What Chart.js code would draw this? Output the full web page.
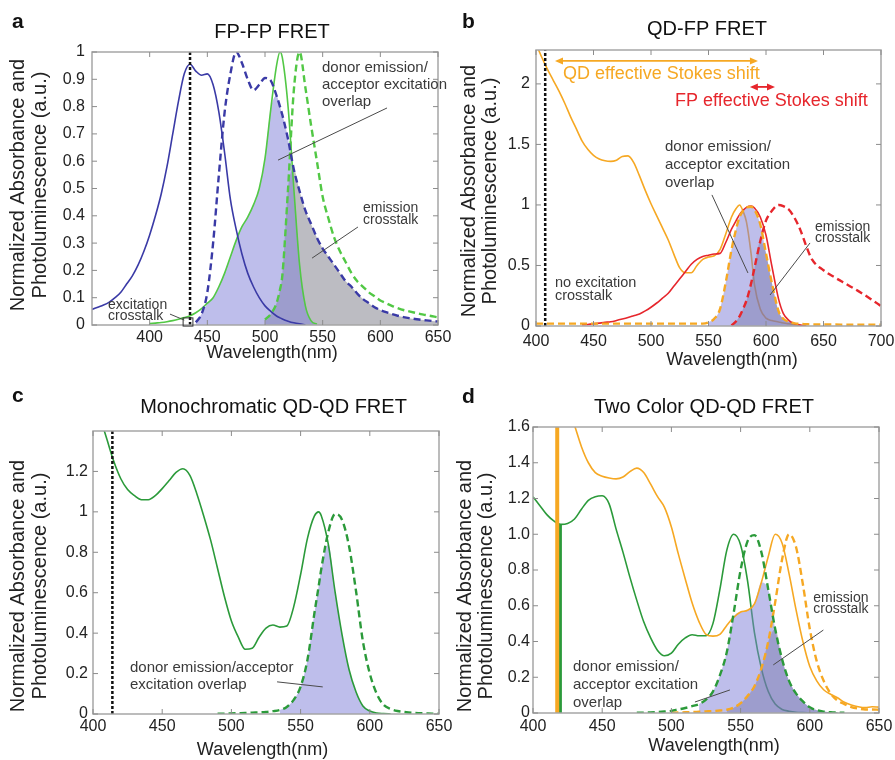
<!DOCTYPE html>
<html>
<head>
<meta charset="utf-8">
<script src="https://cdn.jsdelivr.net/npm/chart.js@4.4.1/dist/chart.umd.min.js"></script>
<style>
  body { margin: 0; background: #fff; }
  #wrap { position: relative; width: 895px; height: 760px; overflow: hidden; background: #fff; }
  canvas { position: absolute; }
</style>
</head>
<body>
<div id="wrap">
  <canvas id="panelA" width="460" height="370" style="left:0px;top:0px"></canvas>
  <canvas id="panelB" width="448" height="370" style="left:447px;top:0px"></canvas>
  <canvas id="panelC" width="460" height="390" style="left:0px;top:370px"></canvas>
  <canvas id="panelD" width="448" height="390" style="left:447px;top:370px"></canvas>
</div>
<script>
// ---------- panel a : FP-FP FRET ----------
const aWavelength = [350,355,360,365,370,375,380,385,390,395,400,405,410,415,420,425,430,435,440,445,450,455,460,465,470,475,480,485,490,495,500,505,510,513,515,520,525,530,535,540,545,550,555,560,565,570,575,580,585,590,595,600,605,610,615,620,625,630,635,640,645,650];
const aDonorAbs = [.057,.065,.073,.084,.10,.12,.15,.18,.22,.27,.33,.40,.48,.58,.70,.82,.92,.955,.93,.915,.92,.88,.78,.63,.46,.35,.26,.19,.14,.10,.07,.05,.033,.026,.022,.014,.008,.004,.001,
  null,null,null,null,null,null,null,null,null,null,null,null,null,null,null,null,null,null,null,null,null,null,null,null];
const aDonorEm = [null,null,null,null,null,null,null,null,null,null,null,null,null,null,null,null,null,null,
  .01,.04,.12,.30,.55,.78,.92,1.0,.96,.90,.86,.88,.905,.895,.84,.80,.77,.68,.57,.49,.42,.37,.32,.28,.25,.22,.19,.16,.14,.115,.095,.08,.065,.055,.047,.04,.034,.029,.025,.022,.019,.017,.015,.013];
const aAcceptorAbs = [null,null,null,null,null,null,null,null,null,null,
  .005,.007,.009,.012,.016,.021,.027,.034,.045,.06,.08,.10,.14,.19,.25,.31,.36,.395,.44,.50,.61,.79,.95,1.0,.98,.80,.50,.22,.07,.015,.003,
  null,null,null,null,null,null,null,null,null,null,null,null,null,null,null,null,null,null,null,null,null];
const aAcceptorEm = [null,null,null,null,null,null,null,null,null,null,null,null,null,null,null,null,null,null,null,null,null,null,null,null,null,null,null,null,null,null,
  .02,.04,.08,.13,.18,.50,.86,1.0,.87,.73,.60,.47,.39,.32,.27,.23,.19,.16,.14,.12,.105,.09,.08,.07,.062,.055,.05,.045,.04,.036,.032,.028];
const aExcitation = 435;
const aXTicks = [400,450,500,550,600,650];
const aYTicks = [0,0.1,0.2,0.3,0.4,0.5,0.6,0.7,0.8,0.9,1];
const aYLabels = ['0','0.1','0.2','0.3','0.4','0.5','0.6','0.7','0.8','0.9','1'];

// ---------- panel b : QD-FP FRET ----------
const bWavelength = [400,405,410,415,420,425,430,435,440,445,450,455,460,465,470,475,480,485,490,495,500,505,510,515,520,525,530,535,540,545,550,555,560,565,570,574,577,580,583,587,590,595,600,605,611,615,620,625,630,635,640,650,660,670,680,690,700];
const bQdAbs = [2.33,2.22,2.12,2.03,1.94,1.84,1.73,1.63,1.53,1.46,1.41,1.38,1.365,1.36,1.37,1.40,1.405,1.35,1.24,1.12,1.01,.91,.81,.71,.59,.48,.44,.44,.50,.55,.57,.58,.63,.76,.90,.97,1.0,
  .95,.86,.60,.34,.14,.065,.045,.033,.025,.018,.012,.008,null,null,null,null,null,null,null,null];
const bQdEm = [.02,.02,.02,.02,.02,.02,.02,.02,.02,.02,.02,.02,.02,.02,.02,.02,.02,.02,.02,.02,.02,.02,.02,.02,.02,.02,.02,.02,.02,.02,
  .03,.06,.14,.36,.63,.80,.90,.95,.98,.985,.96,.84,.60,.36,.12,.06,.035,.022,.017,.015,.013,.012,.012,.01,.01,.01,.01];
const bFpAbs = [null,null,null,null,null,null,null,null,
  .01,.013,.018,.024,.03,.035,.045,.057,.07,.085,.10,.125,.155,.19,.23,.27,.33,.39,.45,.51,.55,.575,.585,.595,.60,.69,.80,.87,.92,.955,.98,.99,.975,.90,.75,.50,.22,.105,.045,.018,.007,.002,
  null,null,null,null,null,null,null];
const bFpEm = [null,null,null,null,null,null,null,null,null,null,null,null,null,null,null,null,null,null,null,null,null,null,null,null,null,null,null,null,null,null,null,null,null,null,
  .005,.04,.08,.14,.21,.35,.48,.70,.87,.95,1.0,.99,.96,.89,.79,.66,.55,.46,.40,.345,.29,.23,.165];
const bExcitation = 408;
const bXTicks = [400,450,500,550,600,650,700];
const bYTicks = [0,0.5,1,1.5,2];
const bYLabels = ['0','0.5','1','1.5','2'];

// ---------- panel c : Monochromatic QD-QD FRET ----------
const cWavelength = [400,405,410,415,420,425,430,435,440,445,450,455,460,465,470,475,480,485,490,495,500,505,510,515,520,525,530,535,540,545,550,555,560,563,565,570,575,580,585,590,595,600,605,610,615,620,625,630,635,640,645,650];
const cQdAbs = [1.58,1.47,1.36,1.25,1.165,1.11,1.08,1.06,1.06,1.08,1.115,1.155,1.195,1.213,1.18,1.09,.98,.86,.72,.58,.46,.38,.32,.325,.38,.425,.44,.43,.435,.53,.69,.87,.98,1.0,
  .98,.84,.60,.39,.22,.11,.04,.015,.005,.002,0,null,null,null,null,null,null,null];
const cQdEm = [null,null,null,null,null,null,null,null,null,null,null,null,null,null,null,null,null,null,
  .002,.002,.003,.004,.005,.007,.008,.01,.014,.02,.035,.07,.135,.27,.50,.63,.72,.90,.99,.96,.83,.61,.36,.20,.10,.045,.025,.015,.01,.006,.004,.003,.002,.002];
const cExcitation = 414;
const cXTicks = [400,450,500,550,600,650];
const cYTicks = [0,0.2,0.4,0.6,0.8,1,1.2];
const cYLabels = ['0','0.2','0.4','0.6','0.8','1','1.2'];

// ---------- panel d : Two Color QD-QD FRET ----------
const dWavelength = [400,405,410,415,420,425,430,435,440,445,450,455,460,465,470,475,480,485,490,495,500,505,510,515,520,525,530,535,540,545,550,555,560,565,570,575,580,585,590,595,600,605,610,615,620,625,630,635,640,645,650];
const dDonorAbs = [1.21,1.16,1.11,1.075,1.055,1.06,1.085,1.14,1.19,1.21,1.215,1.17,1.03,.90,.76,.63,.51,.42,.35,.32,.335,.385,.42,.438,.432,.432,.50,.69,.91,1.0,.94,.74,.45,.25,.12,.05,.02,.01,.004,.002,.001,0,0,0,0,
  null,null,null,null,null,null];
const dDonorEm = [null,null,null,null,null,null,null,null,null,null,null,null,null,null,null,
  .001,.002,.003,.005,.008,.012,.02,.028,.038,.05,.075,.12,.21,.34,.56,.80,.96,.995,.90,.69,.47,.30,.18,.11,.065,.032,.016,.008,.004,.002,.001,
  null,null,null,null,null];
const dAcceptorAbs = [null,null,null,null,null,null,
  1.61,1.49,1.40,1.345,1.325,1.315,1.31,1.32,1.35,1.37,1.345,1.28,1.21,1.15,1.04,.89,.75,.615,.51,.44,.43,.44,.49,.535,.565,.575,.61,.73,.876,1.0,.95,.78,.58,.40,.26,.18,.13,.105,.085,.06,.045,.035,.03,.035,.033];
const dAcceptorEm = [null,null,null,null,null,null,null,null,null,null,null,null,null,null,null,null,null,null,null,null,
  .002,.003,.004,.005,.007,.009,.011,.014,.018,.03,.055,.095,.15,.25,.40,.62,.86,1.0,.93,.72,.47,.29,.18,.11,.07,.05,.033,.025,.02,.02,.018];
const dExcitationAcceptor = 417.5;
const dExcitationDonor = 419.8;
const dXTicks = [400,450,500,550,600,650];
const dYTicks = [0,0.2,0.4,0.6,0.8,1,1.2,1.4,1.6];
const dYLabels = ['0','0.2','0.4','0.6','0.8','1.0','1.2','1.4','1.6'];

// ---------- styles ----------
const FONT = "'Liberation Sans', Arial, sans-serif";
Chart.defaults.font.family = FONT;

const BLUE = '#3a3aa6', LIGHTGREEN = '#52c845', GREEN = '#2b9a3a';
const ORANGE = '#f6a823', RED = '#e6262c';
const LAVENDER = 'rgba(125,125,215,0.5)', GREY = 'rgba(95,95,110,0.42)';
const DASH = [7, 4];

function curve(wl, vals, color, dashed, order) {
  return {
    data: wl.map((x, i) => ({ x, y: vals[i] })).filter(p => p.y !== null),
    borderColor: color, borderWidth: dashed ? 2.4 : 1.6, borderDash: dashed ? DASH : [],
    fill: false, order: order, pointRadius: 0, cubicInterpolationMode: 'monotone'
  };
}
function overlap(wl, v1, v2, range, color, order) {
  const data = [];
  wl.forEach((x, i) => {
    if (x >= range[0] && x <= range[1] && v1[i] !== null && v2[i] !== null) data.push({ x, y: Math.min(v1[i], v2[i]) });
  });
  return { data, borderWidth: 0, borderColor: 'rgba(0,0,0,0)', backgroundColor: color, fill: 'origin',
    order: order, pointRadius: 0, cubicInterpolationMode: 'monotone' };
}
function vline(x, top, color, width, dash) {
  return { data: [{ x, y: 0 }, { x, y: top }], borderColor: color, borderWidth: width, borderDash: dash,
    borderCapStyle: 'butt', fill: false, order: 0, pointRadius: 0, tension: 0, cubicInterpolationMode: 'default' };
}

const decor = {
  id: 'decor',
  afterDraw(chart, args, o) {
    const ctx = chart.ctx, a = chart.chartArea;
    const xs = chart.scales.x, ys = chart.scales.y;
    const px = v => xs.getPixelForValue(v), py = v => ys.getPixelForValue(v);
    ctx.save();
    // box and inward ticks
    ctx.strokeStyle = '#a6a6a6'; ctx.lineWidth = 1.5;
    ctx.strokeRect(a.left, a.top, a.right - a.left, a.bottom - a.top);
    ctx.lineWidth = 1; ctx.strokeStyle = '#8c8c8c';
    ctx.beginPath();
    xs.ticks.forEach(t => { const x = px(t.value); ctx.moveTo(x, a.bottom); ctx.lineTo(x, a.bottom - 5); ctx.moveTo(x, a.top); ctx.lineTo(x, a.top + 5); });
    ys.ticks.forEach(t => { const y = py(t.value); ctx.moveTo(a.left, y); ctx.lineTo(a.left + 5, y); ctx.moveTo(a.right, y); ctx.lineTo(a.right - 5, y); });
    ctx.stroke();
    // pointer lines
    ctx.strokeStyle = '#4a4a4a'; ctx.lineWidth = 1;
    (o.pointers || []).forEach(p => {
      ctx.beginPath(); ctx.moveTo(px(p[0]), py(p[1])); ctx.lineTo(px(p[2]), py(p[3])); ctx.stroke();
    });
    ctx.strokeStyle = '#333';
    (o.boxes || []).forEach(b => ctx.strokeRect(px(b[0]), py(b[1]), px(b[2]) - px(b[0]), py(b[3]) - py(b[1])));
    // double arrows
    (o.arrows || []).forEach(ar => {
      const x1 = px(ar.from), x2 = px(ar.to), y = py(ar.y);
      ctx.strokeStyle = ar.color; ctx.fillStyle = ar.color; ctx.lineWidth = 1.8;
      ctx.beginPath(); ctx.moveTo(x1 + 4, y); ctx.lineTo(x2 - 4, y); ctx.stroke();
      [[x1, 1], [x2, -1]].forEach(([x, d]) => {
        ctx.beginPath(); ctx.moveTo(x, y); ctx.lineTo(x + 8 * d, y - 3.5); ctx.lineTo(x + 8 * d, y + 3.5); ctx.closePath(); ctx.fill();
      });
    });
    // annotation text
    ctx.textAlign = 'left'; ctx.textBaseline = 'middle';
    (o.notes || []).forEach(n => {
      ctx.font = n.size + 'px ' + FONT; ctx.fillStyle = n.color || '#3a3a3a';
      n.lines.forEach((s, i) => ctx.fillText(s, px(n.x), py(n.y) + i * n.lh));
    });
    // letter, title, axis titles
    ctx.fillStyle = '#111';
    ctx.font = 'bold 21px ' + FONT; ctx.textBaseline = 'alphabetic';
    ctx.fillText(o.letter, o.letterPos[0], o.letterPos[1]);
    ctx.textAlign = 'center'; ctx.textBaseline = 'middle';
    ctx.font = '20px ' + FONT;
    ctx.fillText(o.title, o.titlePos[0], o.titlePos[1]);
    ctx.fillStyle = '#222';
    ctx.font = '18px ' + FONT;
    ctx.fillText('Wavelength(nm)', o.xTitlePos[0], o.xTitlePos[1]);
    ctx.font = '20px ' + FONT;
    ctx.translate(o.yTitlePos[0], o.yTitlePos[2]);
    ctx.rotate(-Math.PI / 2);
    ctx.fillText('Normalized Absorbance and', 0, 0);
    ctx.fillText('Photoluminescence (a.u.)', 0, o.yTitlePos[1] - o.yTitlePos[0]);
    ctx.restore();
  }
};

function panel(id, cfg) {
  const canvas = document.getElementById(id);
  const ar = cfg.area;
  new Chart(canvas, {
    type: 'line',
    data: { datasets: cfg.datasets },
    options: {
      responsive: false, animation: false, devicePixelRatio: 1, events: [],
      layout: { padding: { left: 0, top: ar.top, right: canvas.width - ar.right, bottom: 0 } },
      plugins: { legend: { display: false }, tooltip: { enabled: false }, decor: cfg.decor },
      scales: {
        x: {
          type: 'linear', min: cfg.xRange[0], max: cfg.xRange[1],
          grid: { display: false, drawTicks: false }, border: { display: false },
          afterBuildTicks: s => { s.ticks = cfg.xTicks.map(v => ({ value: v })); },
          afterFit: s => { s.height = canvas.height - ar.bottom; s.paddingLeft = 0; s.paddingRight = 0; },
          ticks: { autoSkip: false, maxRotation: 0, padding: cfg.xPad, color: '#222', font: { size: 16 }, callback: v => String(v) }
        },
        y: {
          type: 'linear', min: 0, max: cfg.yMax,
          grid: { display: false, drawTicks: false }, border: { display: false },
          afterBuildTicks: s => { s.ticks = cfg.yTicks.map(v => ({ value: v })); },
          afterFit: s => { s.width = ar.left; s.paddingTop = 0; s.paddingBottom = 0; },
          ticks: { autoSkip: false, padding: cfg.yPad, color: '#222', font: { size: 16 }, callback: (v, i) => cfg.yLabels[i] }
        }
      }
    },
    plugins: [decor]
  });
}

panel('panelA', {
  area: { left: 92, right: 438, top: 52, bottom: 325 },
  xRange: [350, 650], yMax: 1, xTicks: aXTicks, yTicks: aYTicks, yLabels: aYLabels, xPad: 3, yPad: 7,
  datasets: [
    vline(aExcitation, 1, '#111', 2.5, [3, 2]),
    curve(aWavelength, aDonorAbs, BLUE, false, 1),
    curve(aWavelength, aDonorEm, BLUE, true, 1),
    curve(aWavelength, aAcceptorAbs, LIGHTGREEN, false, 1),
    curve(aWavelength, aAcceptorEm, LIGHTGREEN, true, 1),
    overlap(aWavelength, aDonorEm, aAcceptorAbs, [440, 545], LAVENDER, 10),
    overlap(aWavelength, aDonorEm, aAcceptorEm, [500, 650], GREY, 11)
  ],
  decor: {
    letter: 'a', letterPos: [12, 28], title: 'FP-FP FRET', titlePos: [272, 32],
    xTitlePos: [272, 353], yTitlePos: [18.5, 40, 185],
    notes: [
      { x: 549.4, y: 0.941, lh: 17, size: 15, lines: ['donor emission/', 'acceptor excitation', 'overlap'] },
      { x: 585, y: 0.429, lh: 12, size: 14, lines: ['emission', 'crosstalk'] },
      { x: 363.9, y: 0.073, lh: 11, size: 14, lines: ['excitation', 'crosstalk'] }
    ],
    pointers: [[605.8, 0.795, 511.3, 0.604], [580.6, 0.359, 540.8, 0.245], [417.6, 0.04, 430, 0.018]],
    boxes: [[429, 0.026, 437.5, -0.004]]
  }
});

panel('panelB', {
  area: { left: 89, right: 434, top: 50, bottom: 326 },
  xRange: [400, 700], yMax: 2.28, xTicks: bXTicks, yTicks: bYTicks, yLabels: bYLabels, xPad: 6, yPad: 6,
  datasets: [
    vline(bExcitation, 2.28, '#111', 2.5, [3, 2]),
    curve(bWavelength, bQdEm, ORANGE, true, 1),
    curve(bWavelength, bFpAbs, RED, false, 1),
    curve(bWavelength, bFpEm, RED, true, 1),
    overlap(bWavelength, bQdEm, bFpAbs, [550, 635], LAVENDER, 10),
    overlap(bWavelength, bQdEm, bFpEm, [570, 630], GREY, 11),
    curve(bWavelength, bQdAbs, ORANGE, false, 20)
  ],
  decor: {
    letter: 'b', letterPos: [15, 28], title: 'QD-FP FRET', titlePos: [260, 29],
    xTitlePos: [285, 360], yTitlePos: [22.5, 43.5, 191],
    arrows: [{ from: 416.5, to: 593, y: 2.19, color: ORANGE }, { from: 586, to: 607.8, y: 1.975, color: RED }],
    notes: [
      { x: 423.5, y: 2.083, lh: 0, size: 18, color: ORANGE, lines: ['QD effective Stokes shift'] },
      { x: 520.9, y: 1.86, lh: 0, size: 18, color: RED, lines: ['FP effective Stokes shift'] },
      { x: 512.2, y: 1.479, lh: 18, size: 15, lines: ['donor emission/', 'acceptor excitation', 'overlap'] },
      { x: 642.6, y: 0.818, lh: 11, size: 14, lines: ['emission', 'crosstalk'] },
      { x: 416.5, y: 0.355, lh: 13, size: 14.5, lines: ['no excitation', 'crosstalk'] }
    ],
    pointers: [[553, 1.083, 584.3, 0.438], [638.3, 0.686, 603.5, 0.256]]
  }
});

panel('panelC', {
  area: { left: 93, right: 439, top: 61, bottom: 344 },
  xRange: [400, 650], yMax: 1.4, xTicks: cXTicks, yTicks: cYTicks, yLabels: cYLabels, xPad: 3, yPad: 5,
  datasets: [
    vline(cExcitation, 1.4, '#111', 2.5, [3, 2]),
    curve(cWavelength, cQdAbs, GREEN, false, 1),
    curve(cWavelength, cQdEm, GREEN, true, 1),
    overlap(cWavelength, cQdAbs, cQdEm, [535, 615], LAVENDER, 10)
  ],
  decor: {
    letter: 'c', letterPos: [12, 32], title: 'Monochromatic QD-QD FRET', titlePos: [273.5, 37],
    xTitlePos: [262.5, 380], yTitlePos: [18.5, 40.5, 216],
    notes: [{ x: 426.7, y: 0.23, lh: 17, size: 15, lines: ['donor emission/acceptor', 'excitation overlap'] }],
    pointers: [[533, 0.159, 566, 0.134]]
  }
});

panel('panelD', {
  area: { left: 86, right: 432, top: 57, bottom: 343 },
  xRange: [400, 650], yMax: 1.6, xTicks: dXTicks, yTicks: dYTicks, yLabels: dYLabels, xPad: 4, yPad: 3,
  datasets: [
    vline(dExcitationAcceptor, 1.6, ORANGE, 4, []),
    vline(dExcitationDonor, 1.055, GREEN, 3, []),
    curve(dWavelength, dDonorEm, GREEN, true, 1),
    curve(dWavelength, dAcceptorAbs, ORANGE, false, 1),
    curve(dWavelength, dAcceptorEm, ORANGE, true, 1),
    overlap(dWavelength, dDonorEm, dAcceptorAbs, [520, 625], LAVENDER, 10),
    overlap(dWavelength, dDonorEm, dAcceptorEm, [540, 625], GREY, 11),
    curve(dWavelength, dDonorAbs, GREEN, false, 20)
  ],
  decor: {
    letter: 'd', letterPos: [15, 33], title: 'Two Color QD-QD FRET', titlePos: [257, 37],
    xTitlePos: [267, 376.5], yTitlePos: [18, 39, 216],
    notes: [
      { x: 428.9, y: 0.259, lh: 18, size: 15, lines: ['donor emission/', 'acceptor excitation', 'overlap'] },
      { x: 602.5, y: 0.645, lh: 11.5, size: 14, lines: ['emission', 'crosstalk'] }
    ],
    pointers: [[517, 0.0615, 542.3, 0.129], [609.8, 0.464, 573.6, 0.269]]
  }
});
</script>
</body>
</html>
